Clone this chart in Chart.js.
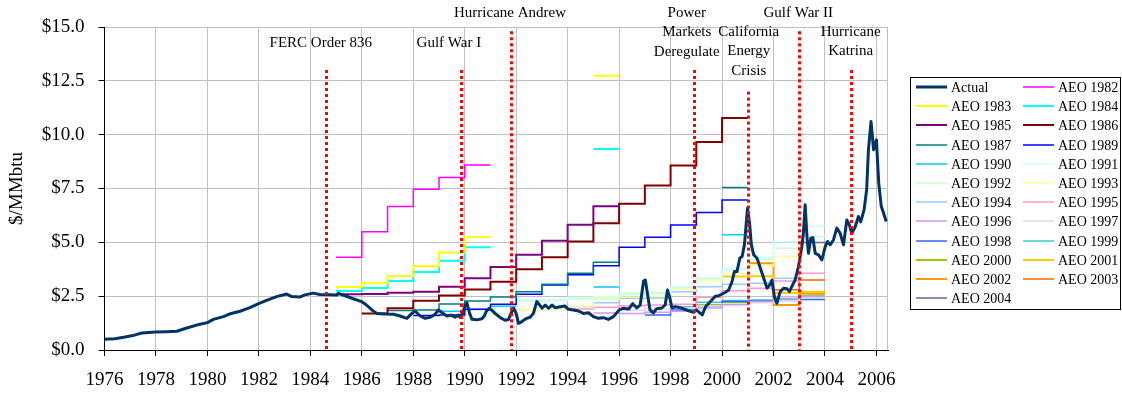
<!DOCTYPE html>
<html>
<head>
<meta charset="utf-8">
<script src="https://cdn.jsdelivr.net/npm/chart.js@4.4.1/dist/chart.umd.min.js"></script>
<style>
  body { margin: 0; background: #fff; }
  #wrap { width: 1122px; height: 394px; position: relative; }
</style>
</head>
<body>
<div id="wrap"><canvas id="gasChart"></canvas></div>
<script>
// axis ticks
const xTickYears = [1976, 1978, 1980, 1982, 1984, 1986, 1988, 1990, 1992, 1994, 1996, 1998, 2000, 2002, 2004, 2006];
const yTickValues = [0, 2.5, 5, 7.5, 10, 12.5, 15];

// actual wellhead price ($/MMbtu)
const actualDates = [
  1976.00, 1976.40, 1976.80, 1977.10, 1977.45, 1977.98, 1978.40, 1978.81, 1979.20, 1979.71,
  1980.00, 1980.23, 1980.62, 1980.88, 1981.27, 1981.65, 1981.99, 1982.30, 1982.69, 1983.08,
  1983.27, 1983.59, 1983.79, 1984.11, 1984.37, 1984.76, 1985.02, 1985.09, 1985.35, 1985.67,
  1985.99, 1986.18, 1986.39, 1986.58, 1986.91, 1987.23, 1987.49, 1987.75, 1987.95, 1988.07,
  1988.27, 1988.46, 1988.66, 1988.85, 1988.98, 1989.11, 1989.31, 1989.46, 1989.63, 1989.76,
  1989.82, 1989.93, 1990.02, 1990.08, 1990.19, 1990.28, 1990.47, 1990.67, 1990.76, 1990.84,
  1990.93, 1991.05, 1991.18, 1991.38, 1991.57, 1991.70, 1991.83, 1991.90, 1992.00, 1992.09,
  1992.22, 1992.41, 1992.54, 1992.67, 1992.80, 1992.91, 1993.00, 1993.13, 1993.26, 1993.39,
  1993.52, 1993.71, 1993.90, 1994.03, 1994.22, 1994.42, 1994.61, 1994.81, 1995.00, 1995.20,
  1995.39, 1995.58, 1995.78, 1996.00, 1996.17, 1996.37, 1996.53, 1996.69, 1996.82, 1996.95,
  1997.02, 1997.10, 1997.20, 1997.33, 1997.46, 1997.66, 1997.79, 1997.88, 1997.96, 1998.05,
  1998.18, 1998.37, 1998.57, 1998.76, 1998.90, 1999.00, 1999.16, 1999.23, 1999.36, 1999.55,
  1999.74, 1999.87, 2000.00, 2000.13, 2000.26, 2000.39, 2000.48, 2000.58, 2000.69, 2000.78,
  2000.87, 2000.93, 2000.99, 2001.07, 2001.14, 2001.23, 2001.36, 2001.49, 2001.62, 2001.75,
  2001.85, 2001.94, 2002.03, 2002.13, 2002.26, 2002.39, 2002.52, 2002.62, 2002.71, 2002.84,
  2002.97, 2003.10, 2003.16, 2003.23, 2003.30, 2003.36, 2003.45, 2003.53, 2003.62, 2003.75,
  2003.88, 2004.01, 2004.10, 2004.20, 2004.33, 2004.46, 2004.59, 2004.72, 2004.85, 2004.95,
  2005.04, 2005.17, 2005.30, 2005.39, 2005.52, 2005.62, 2005.69, 2005.79, 2005.89, 2006.00,
  2006.09, 2006.19, 2006.28, 2006.38
];
const actualPrices = [
  0.50, 0.52, 0.60, 0.67, 0.79, 0.84, 0.85, 0.87, 1.02, 1.20,
  1.27, 1.42, 1.55, 1.68, 1.80, 1.97, 2.15, 2.30, 2.48, 2.60,
  2.48, 2.46, 2.56, 2.64, 2.58, 2.57, 2.55, 2.63, 2.52, 2.38,
  2.25, 2.09, 1.86, 1.70, 1.67, 1.66, 1.58, 1.47, 1.70, 1.81,
  1.58, 1.47, 1.52, 1.66, 1.86, 1.74, 1.58, 1.62, 1.52, 1.62,
  1.52, 1.74, 2.09, 2.20, 1.70, 1.43, 1.40, 1.45, 1.58, 1.80,
  1.92, 1.85, 1.70, 1.50, 1.38, 1.42, 1.78, 1.94, 1.70, 1.24,
  1.32, 1.47, 1.52, 1.70, 2.25, 2.09, 1.94, 2.09, 1.94, 2.09,
  1.96, 2.01, 2.04, 1.89, 1.86, 1.81, 1.70, 1.73, 1.55, 1.47,
  1.50, 1.42, 1.55, 1.86, 1.94, 1.90, 2.15, 1.95, 2.09, 3.20,
  3.25, 2.63, 1.86, 1.72, 1.92, 1.95, 2.09, 2.79, 2.48, 1.96,
  2.01, 1.97, 1.88, 1.80, 1.75, 1.86, 1.70, 1.63, 2.01, 2.25,
  2.50, 2.52, 2.60, 2.68, 2.79, 3.18, 3.64, 3.64, 4.26, 4.34,
  4.88, 5.73, 6.59, 5.89, 4.88, 4.42, 4.26, 3.80, 3.33, 2.87,
  3.02, 3.25, 2.50, 2.17, 2.71, 2.87, 2.85, 2.71, 2.94, 3.25,
  3.87, 4.80, 5.42, 6.74, 5.27, 4.49, 5.19, 5.22, 4.49, 4.42,
  4.18, 4.80, 5.04, 4.88, 5.11, 5.66, 5.42, 4.88, 6.04, 5.81,
  5.42, 5.70, 6.20, 5.95, 6.51, 7.44, 9.30, 10.61, 9.30, 9.76,
  7.75, 6.66, 6.35, 5.97
];

// AEO forecasts: one value per year, each value holds for that whole year
const forecastYears = [1985, 1986, 1987, 1988, 1989, 1990, 1991, 1992, 1993, 1994,
                       1995, 1996, 1997, 1998, 1999, 2000, 2001, 2002, 2003];
const _ = null;
const aeo1982 = [4.31, 5.49, 6.66, 7.47, 8.01, 8.59, _, _, _, _, _, _, _, _, _, _, _, _, _];
const aeo1983 = [2.92, 3.10, 3.44, 3.89, 4.53, 5.25, _, _, _, _, 12.74, _, _, _, _, _, _, _, _];
const aeo1984 = [2.74, 2.88, 3.21, 3.62, 4.14, 4.77, _, _, _, _, 9.34, _, _, _, _, _, _, _, _];
const aeo1985 = [2.59, 2.60, 2.66, 2.71, 2.94, 3.33, 3.85, 4.42, 5.07, 5.82, 6.68, _, _, _, _, _, _, _, _];
const aeo1986 = [_, 1.70, 1.94, 2.29, 2.53, 2.81, 3.17, 3.75, 4.31, 5.04, 5.89, 6.79, 7.64, 8.57, 9.66, 10.77, _, _, _];
const aeo1987 = [_, _, 1.83, 1.86, 2.14, 2.27, 2.46, 2.71, 3.05, 3.56, 4.08, _, _, _, _, 7.55, _, _, _];
const aeo1989 = [_, _, _, 1.60, 1.62, 1.89, 2.12, 2.59, 3.02, 3.50, 3.91, 4.77, 5.24, 5.81, 6.38, 6.97, _, _, _];
const aeo1990 = [_, _, _, _, 1.80, 1.88, 2.03, _, _, _, 2.93, _, _, _, _, 5.35, _, _, _];
const aeo1991 = [_, _, _, _, _, _, 2.10, 2.32, 2.33, 2.45, 2.48, 2.56, 2.60, 2.95, 3.35, 3.78, 4.31, 5.03, 5.76];
const aeo1992 = [_, _, _, _, _, _, 1.67, 2.28, 2.30, 2.38, 2.42, 2.63, 2.66, 2.90, 3.30, 3.75, 4.20, 4.73, 5.27];
const aeo1993 = [_, _, _, _, _, _, _, 1.86, 1.90, 2.00, 2.36, 2.45, 2.50, 2.85, 3.20, 3.55, 3.90, 4.34, 4.80];
const aeo1994 = [_, _, _, _, _, _, _, _, 1.95, 2.00, 2.20, 2.40, 2.42, 2.71, 2.94, 3.05, 3.10, 3.33, _];
const aeo1995 = [_, _, _, _, _, _, _, _, _, 1.90, 1.98, 2.06, 2.09, 2.12, 2.45, 2.75, 2.87, 3.20, 3.56];
const aeo1996 = [_, _, _, _, _, _, _, _, _, _, 1.72, 1.70, 1.75, 1.80, 1.95, 2.10, 2.25, 2.40, 2.50];
const aeo1997 = [_, _, _, _, _, _, _, _, _, _, _, 1.85, 1.90, 1.95, 2.05, 2.15, 2.20, 2.30, 2.40];
const aeo1998 = [_, _, _, _, _, _, _, _, _, _, _, _, 1.63, 1.86, 2.05, 2.25, 2.28, 2.30, 2.35];
const aeo1999 = [_, _, _, _, _, _, _, _, _, _, _, _, _, 2.01, 2.22, 2.30, 2.32, 2.34, 2.40];
const aeo2000 = [_, _, _, _, _, _, _, _, _, _, _, _, _, _, 2.09, 2.22, 2.27, 2.32, 2.53];
const aeo2001 = [_, _, _, _, _, _, _, _, _, _, _, _, _, _, _, 3.41, 3.42, 2.65, 2.71];
const aeo2002 = [_, _, _, _, _, _, _, _, _, _, _, _, _, _, _, _, 4.03, 2.09, 2.62];
const aeo2003 = [_, _, _, _, _, _, _, _, _, _, _, _, _, _, _, _, _, 2.80, 3.25];
const aeo2004 = [_, _, _, _, _, _, _, _, _, _, _, _, _, _, _, _, _, _, 4.99];

const forecastNames = ['AEO 1982', 'AEO 1983', 'AEO 1984', 'AEO 1985', 'AEO 1986', 'AEO 1987',
  'AEO 1989', 'AEO 1990', 'AEO 1991', 'AEO 1992', 'AEO 1993', 'AEO 1994', 'AEO 1995', 'AEO 1996',
  'AEO 1997', 'AEO 1998', 'AEO 1999', 'AEO 2000', 'AEO 2001', 'AEO 2002', 'AEO 2003', 'AEO 2004'];
const forecastValues = [aeo1982, aeo1983, aeo1984, aeo1985, aeo1986, aeo1987, aeo1989, aeo1990,
  aeo1991, aeo1992, aeo1993, aeo1994, aeo1995, aeo1996, aeo1997, aeo1998, aeo1999, aeo2000,
  aeo2001, aeo2002, aeo2003, aeo2004];
const forecastColors = ['#ff00ff', '#ffff00', '#00ffff', '#800080', '#800000', '#008080',
  '#0000ff', '#00ccff', '#ccffff', '#ccffcc', '#ffff99', '#99ccff', '#ff99cc', '#cc99ff',
  '#dddddd', '#3366ff', '#33cccc', '#99cc00', '#ffcc00', '#ff9900', '#ff6600', '#666699'];
const forecastWidths = [1.5, 2, 2, 2, 2, 1.5, 1.5, 1.5, 1.5, 1.5, 1.5, 1.5, 1.5, 1.5,
  1.5, 1.5, 1.5, 2, 2, 2, 1.5, 1.5];

// events
const eventNames = [['FERC Order 836'], ['Gulf War I'], ['Hurricane Andrew'],
  ['Power', 'Markets', 'Deregulate'], ['California', 'Energy', 'Crisis'], ['Gulf War II'],
  ['Hurricane', 'Katrina']];
const eventYears = [1984.6, 1989.85, 1991.8, 1998.9, 2001.0, 2003.0, 2005.0];
const eventLineTops = [13.0, 13.0, 14.8, 13.0, 12.0, 14.8, 13.0];
// label placement: [shift from line in px, first text line y in px]
const eventLabelPos = [[-5, 43], [-12, 43], [-1, 13], [-7, 13], [1, 32], [-1, 13], [0, 32]];

const serif = "'Liberation Serif', 'Times New Roman', serif";

function stepPoints(values) {
  const pts = [];
  values.forEach((v, i) => {
    if (v === null) return;
    const yr = forecastYears[i];
    pts.push({ x: yr, y: v });
    const next = values[i + 1];
    if (next === undefined || next === null) {
      pts.push({ x: yr + 1, y: v });
      pts.push({ x: yr + 1, y: null });
    }
  });
  return pts;
}

const datasets = [{
  label: 'Actual',
  data: actualDates.map((d, i) => ({ x: d, y: actualPrices[i] })),
  borderColor: '#003366',
  borderWidth: 3,
  pointRadius: 0,
  tension: 0,
  borderJoinStyle: 'round'
}];
forecastNames.forEach((name, i) => {
  datasets.push({
    label: name,
    data: stepPoints(forecastValues[i]),
    borderColor: forecastColors[i],
    borderWidth: forecastWidths[i],
    pointRadius: 0,
    stepped: 'before',
    spanGaps: false
  });
});

const eventPlugin = {
  id: 'events',
  beforeDatasetsDraw(chart) {
    const { ctx, chartArea } = chart;
    ctx.save();
    ctx.strokeStyle = '#c0c0c0';
    ctx.lineWidth = 1;
    ctx.beginPath();
    ctx.moveTo(chartArea.right - 0.5, chartArea.top);
    ctx.lineTo(chartArea.right - 0.5, chartArea.bottom);
    ctx.stroke();
    ctx.restore();
  },
  afterDatasetsDraw(chart) {
    const { ctx, scales: { x, y } } = chart;
    ctx.save();
    ctx.strokeStyle = '#ff0000';
    ctx.lineWidth = 3;
    ctx.setLineDash([3, 3]);
    eventYears.forEach((yr, i) => {
      const px = Math.round(x.getPixelForValue(yr)) + 0.5;
      ctx.beginPath();
      ctx.moveTo(px, y.getPixelForValue(eventLineTops[i]));
      ctx.lineTo(px, y.getPixelForValue(0));
      ctx.stroke();
    });
    ctx.setLineDash([]);
    ctx.fillStyle = '#000';
    ctx.font = '15px ' + serif;
    ctx.textAlign = 'center';
    ctx.textBaseline = 'middle';
    eventNames.forEach((lines, i) => {
      const px = x.getPixelForValue(eventYears[i]) + eventLabelPos[i][0];
      lines.forEach((t, j) => ctx.fillText(t, px, eventLabelPos[i][1] + j * 19.5));
    });
    ctx.restore();
  }
};

const legendPlugin = {
  id: 'sideLegend',
  afterDraw(chart) {
    const ctx = chart.ctx;
    ctx.save();
    ctx.strokeStyle = '#000';
    ctx.lineWidth = 1;
    ctx.strokeRect(910.5, 77.5, 210, 232);
    ctx.font = '14px ' + serif;
    ctx.textBaseline = 'middle';
    ctx.textAlign = 'left';
    ctx.fillStyle = '#000';
    chart.data.datasets.forEach((ds, i) => {
      const col = i % 2, row = Math.floor(i / 2);
      const lx = 916 + col * 107, ty = Math.round(87 + row * 19.2);
      ctx.strokeStyle = ds.borderColor;
      ctx.lineWidth = ds.borderWidth;
      ctx.beginPath();
      ctx.moveTo(lx, ty);
      ctx.lineTo(lx + 31, ty);
      ctx.stroke();
      ctx.fillText(ds.label, lx + 35, ty + 1);
    });
    ctx.restore();
  }
};

new Chart(document.getElementById('gasChart'), {
  type: 'line',
  data: { datasets },
  options: {
    responsive: true,
    maintainAspectRatio: false,
    animation: false,
    events: [],
    layout: { padding: { top: 27, right: 234, left: 0, bottom: 0 } },
    plugins: { legend: { display: false }, tooltip: { enabled: false } },
    scales: {
      x: {
        type: 'linear',
        min: 1976,
        max: 2006.45,
        afterBuildTicks: (axis) => { axis.ticks = xTickYears.map(v => ({ value: v })); },
        afterFit: (axis) => { axis.height = 44; },
        ticks: {
          autoSkip: false,
          maxRotation: 0,
          padding: 13,
          color: '#000',
          font: { family: serif, size: 19 },
          callback: (v) => String(v)
        },
        grid: { color: '#c0c0c0', tickColor: '#000', tickLength: 6 },
        border: { color: '#000', width: 1 }
      },
      y: {
        min: 0,
        max: 15,
        afterBuildTicks: (axis) => { axis.ticks = yTickValues.map(v => ({ value: v })); },
        afterFit: (axis) => { axis.width = 104.5; },
        ticks: {
          padding: 14,
          color: '#000',
          font: { family: serif, size: 19 },
          callback: (v) => '$' + v.toFixed(1)
        },
        grid: { color: '#c0c0c0', tickColor: '#000', tickLength: 6 },
        border: { color: '#000', width: 1 },
        title: {
          display: true,
          text: '$/MMbtu',
          color: '#000',
          font: { family: serif, size: 19 },
          padding: { top: 6, bottom: 0 }
        }
      }
    }
  },
  plugins: [eventPlugin, legendPlugin]
});
</script>
</body>
</html>
